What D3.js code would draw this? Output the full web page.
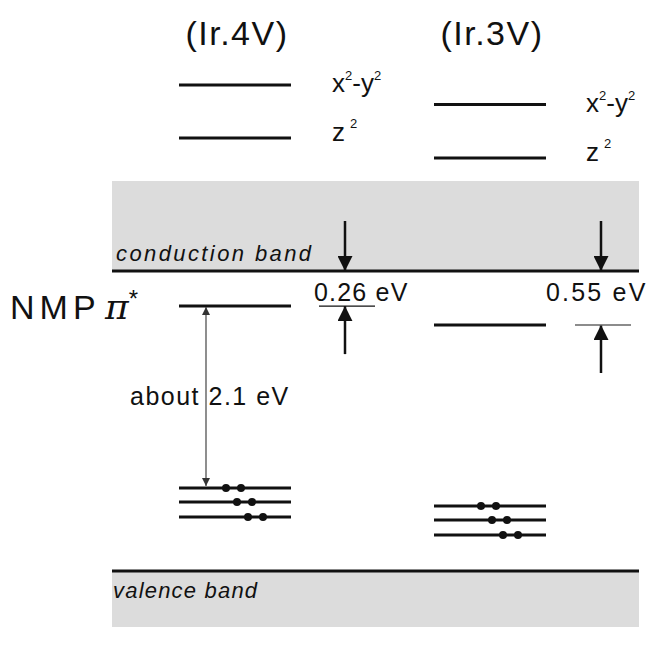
<!DOCTYPE html>
<html>
<head>
<meta charset="utf-8">
<script src="https://cdn.jsdelivr.net/npm/d3@7"></script>
<style>
  body { margin: 0; background: #fff; }
  text { font-family: "Liberation Sans", Arial, sans-serif; fill: #111; }
</style>
</head>
<body>
<svg></svg>
<script>
const svgWidth = 651
const svgHeight = 654

// schematic energy units: valence band edge = 0, conduction band edge = 100
const columns = ["(Ir.4V)", "(Ir.3V)"]
const dLevelNames = ["x2-y2", "z2"]
const dLevels = [[162, 144.3], [155.5, 137.7]] // per column: x2-y2, z2
const piLevels = [88.3, 82]                     // NMP pi* level per column
const occLevels = [[27.7, 23, 18], [21.7, 17, 12]] // filled levels (2 electrons each)
const gapLabels = ["0.26 eV", "0.55 eV"]
const bandEdges = { conduction: 100, valence: 0 }

const svg = d3.select("svg")
    .attr("width", svgWidth)
    .attr("height", svgHeight)

const yScale = d3.scaleLinear().domain([0, 100]).range([571, 271])
const xScale = d3.scaleOrdinal().domain(columns).range([235, 490])
const halfW = 56

// band areas
svg.append("rect")
    .attr("x", 112).attr("width", 527)
    .attr("y", 181).attr("height", yScale(bandEdges.conduction) - 181)
    .attr("fill", "#dcdcdc")
svg.append("rect")
    .attr("x", 112).attr("width", 527)
    .attr("y", yScale(bandEdges.valence)).attr("height", 627 - yScale(bandEdges.valence))
    .attr("fill", "#dcdcdc")

svg.selectAll(".band-edge")
    .data([bandEdges.conduction, bandEdges.valence])
    .join("line")
    .attr("x1", 112).attr("x2", 639)
    .attr("y1", d => yScale(d)).attr("y2", d => yScale(d))
    .attr("stroke", "#111").attr("stroke-width", 3)

svg.append("text")
    .text("conduction band")
    .attr("x", 116).attr("y", 261)
    .attr("font-size", 22).attr("font-style", "italic")
    .attr("letter-spacing", 2.4)
svg.append("text")
    .text("valence band")
    .attr("x", 113).attr("y", 598)
    .attr("font-size", 22).attr("font-style", "italic")
    .attr("letter-spacing", 1.2)

// column titles
svg.selectAll(".title")
    .data(columns)
    .join("text")
    .text(d => d)
    .attr("x", d => xScale(d) + 2).attr("y", 45)
    .attr("text-anchor", "middle")
    .attr("font-size", 34)
    .attr("letter-spacing", 1.5)

// arrowhead markers
const defs = svg.append("defs")
defs.append("marker")
    .attr("id", "bigHead")
    .attr("viewBox", "0 0 10 10")
    .attr("refX", 10).attr("refY", 5)
    .attr("markerWidth", 15).attr("markerHeight", 15)
    .attr("markerUnits", "userSpaceOnUse")
    .attr("orient", "auto")
    .append("path").attr("d", "M0,0 L10,5 L0,10 Z").attr("fill", "#111")
defs.append("marker")
    .attr("id", "thinHead")
    .attr("viewBox", "0 0 10 10")
    .attr("refX", 10).attr("refY", 5)
    .attr("markerWidth", 10).attr("markerHeight", 8)
    .attr("markerUnits", "userSpaceOnUse")
    .attr("orient", "auto-start-reverse")
    .append("path").attr("d", "M0,0 L10,5 L0,10 Z").attr("fill", "#333")

columns.forEach((col, ci) => {
    const cx = xScale(col)

    // d levels
    svg.selectAll(".d" + ci)
        .data(dLevels[ci])
        .join("line")
        .attr("x1", cx - halfW).attr("x2", cx + halfW)
        .attr("y1", d => yScale(d)).attr("y2", d => yScale(d))
        .attr("stroke", "#111").attr("stroke-width", 3)

    const lx = ci === 0 ? 332 : 586
    dLevelNames.forEach((name, ni) => {
        const t = svg.append("text")
            .attr("x", lx).attr("y", yScale(dLevels[ci][ni]) + (ni === 0 ? 7 : 3))
            .attr("font-size", 26)
        if (name === "x2-y2") {
            t.append("tspan").text("x")
            t.append("tspan").text("2").attr("font-size", 13).attr("dy", -12)
            t.append("tspan").text("-y").attr("dy", 12)
            t.append("tspan").text("2").attr("font-size", 13).attr("dy", -12)
        } else {
            t.append("tspan").text("z")
            t.append("tspan").text("2").attr("font-size", 13).attr("dy", -13).attr("dx", 5)
        }
    })

    // pi* level
    svg.append("line")
        .attr("x1", cx - halfW).attr("x2", cx + halfW)
        .attr("y1", yScale(piLevels[ci])).attr("y2", yScale(piLevels[ci]))
        .attr("stroke", "#111").attr("stroke-width", 3)

    // occupied levels with electron pairs
    svg.selectAll(".occ" + ci)
        .data(occLevels[ci])
        .join("line")
        .attr("x1", cx - halfW).attr("x2", cx + halfW)
        .attr("y1", d => yScale(d)).attr("y2", d => yScale(d))
        .attr("stroke", "#111").attr("stroke-width", 3)
    occLevels[ci].forEach((lv, ri) => {
        svg.selectAll(".e" + ci + "_" + ri)
            .data([0, 1])
            .join("circle")
            .attr("cx", k => cx - 9 + 11 * ri + 15 * k)
            .attr("cy", yScale(lv))
            .attr("r", 4)
            .attr("fill", "#111")
    })

    // gap to conduction band
    const ax = ci === 0 ? 345 : 601
    const yCB = yScale(bandEdges.conduction)
    const yPi = yScale(piLevels[ci])
    svg.append("line")
        .attr("x1", ax).attr("x2", ax)
        .attr("y1", 221).attr("y2", yCB)
        .attr("stroke", "#111").attr("stroke-width", 2.5)
        .attr("marker-end", "url(#bigHead)")
    svg.append("line")
        .attr("x1", ax).attr("x2", ax)
        .attr("y1", yPi + 48).attr("y2", yPi)
        .attr("stroke", "#111").attr("stroke-width", 2.5)
        .attr("marker-end", "url(#bigHead)")
    svg.append("line")
        .attr("x1", ax - 26).attr("x2", ax + 30)
        .attr("y1", yPi).attr("y2", yPi)
        .attr("stroke", ci === 0 ? "#111" : "#666").attr("stroke-width", 1.3)
    svg.append("text")
        .text(gapLabels[ci])
        .attr("x", ci === 0 ? 314 : 546).attr("y", 301)
        .attr("font-size", 25)
        .attr("letter-spacing", ci === 0 ? 1.2 : 2.2)
})

// pi* -> occupied gap, Ir.4V
svg.append("line")
    .attr("x1", 206).attr("x2", 206)
    .attr("y1", yScale(piLevels[0]) + 1).attr("y2", yScale(occLevels[0][0]) - 2)
    .attr("stroke", "#444").attr("stroke-width", 1.2)
    .attr("marker-start", "url(#thinHead)")
    .attr("marker-end", "url(#thinHead)")
svg.append("text")
    .text("about 2.1 eV")
    .attr("x", 130).attr("y", 405)
    .attr("font-size", 25)
    .attr("letter-spacing", 1.5)

// NMP pi* label
const nmp = svg.append("text")
    .attr("x", 10).attr("y", 319)
    .attr("font-size", 34)
nmp.append("tspan").text("NMP").attr("letter-spacing", 5)
nmp.append("tspan").text("π")
    .attr("x", 105)
    .attr("font-family", "'DejaVu Serif', serif")
    .attr("font-style", "italic")
    .attr("font-size", 36)
nmp.append("tspan").text("*")
    .attr("font-size", 24)
    .attr("dy", -12)
</script>
</body>
</html>
